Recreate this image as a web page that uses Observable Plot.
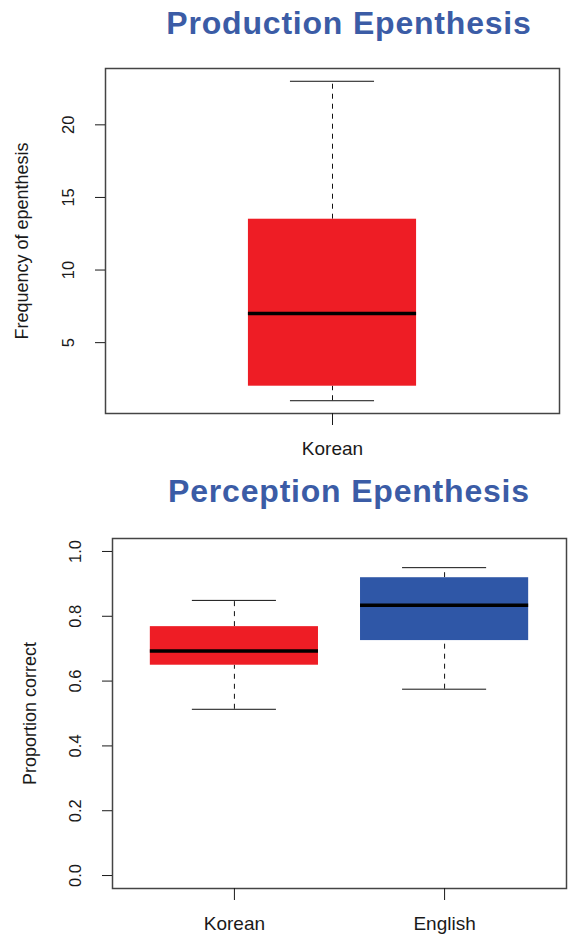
<!DOCTYPE html>
<html><head><meta charset="utf-8">
<script src="https://cdn.jsdelivr.net/npm/d3@7"></script>
<script src="https://cdn.jsdelivr.net/npm/@observablehq/plot@0.6"></script>
<style>
body{margin:0;background:#fff;}
#wrap{position:relative;width:568px;height:934px;overflow:hidden;font-family:"Liberation Sans",Arial,sans-serif;}
.title{position:absolute;left:149px;width:400px;text-align:center;font-weight:bold;font-size:32px;line-height:32px;letter-spacing:0.8px;color:#3B5CA6;white-space:nowrap;}
.chart{position:absolute;left:0;}
</style></head><body>
<div id="wrap">
<div class="title" style="top:7px">Production Epenthesis</div>
<div id="c1" class="chart" style="top:50px"></div>
<div class="title" style="top:475px">Perception Epenthesis</div>
<div id="c2" class="chart" style="top:520px"></div>
</div>
<script>
// Production epenthesis (frequency)
const prodGroups = ["Korean"];
const prodMin = [1];
const prodQ1 = [2];
const prodMedian = [7];
const prodQ3 = [13.5];
const prodMax = [23];
const prodTicks = [5, 10, 15, 20];

// Perception epenthesis (proportion correct)
const percGroups = ["Korean", "English"];
const percMin = [0.513, 0.575];
const percQ1 = [0.649, 0.725];
const percMedian = [0.693, 0.834];
const percQ3 = [0.768, 0.919];
const percMax = [0.849, 0.95];
const percTicks = [0, 0.2, 0.4, 0.6, 0.8, 1.0];

const groupColors = {Korean: "#EE1D25", English: "#2F57A7"};

function boxChart(o) {
  const rows = o.groups.map((g, i) => ({
    group: g, pos: i + 1, min: o.mins[i], q1: o.q1s[i], med: o.medians[i],
    q3: o.q3s[i], max: o.maxs[i], fill: groupColors[g]
  }));
  const half = o.half, cap = o.cap;
  return Plot.plot({
    width: 568, height: o.height,
    marginTop: o.marginTop, marginBottom: o.marginBottom,
    marginLeft: o.marginLeft, marginRight: o.marginRight,
    style: {fontFamily: '"Liberation Sans", Arial, sans-serif', fontSize: "16px", color: "#1a1a1a", background: "white"},
    x: {type: "linear", domain: o.xDomain},
    y: {domain: o.yDomain},
    color: {type: "identity"},
    marks: [
      Plot.ruleX(rows, {x: "pos", y1: "q3", y2: "max", stroke: "#111", strokeDasharray: "5,5"}),
      Plot.ruleX(rows, {x: "pos", y1: "min", y2: "q1", stroke: "#111", strokeDasharray: "5,5"}),
      Plot.ruleY(rows, {y: "max", x1: d => d.pos - cap, x2: d => d.pos + cap, stroke: "#111"}),
      Plot.ruleY(rows, {y: "min", x1: d => d.pos - cap, x2: d => d.pos + cap, stroke: "#111"}),
      Plot.rect(rows, {x1: d => d.pos - half, x2: d => d.pos + half, y1: "q1", y2: "q3", fill: "fill"}),
      Plot.ruleY(rows, {y: "med", x1: d => d.pos - half, x2: d => d.pos + half, stroke: "#000", strokeWidth: 3.5}),
      Plot.frame({stroke: "#444", strokeWidth: 1.5}),
      Plot.axisY({ticks: o.ticks, tickFormat: o.tickFormat, tickSize: 10, tickPadding: 22, tickRotate: -90, fontSize: 16.5, label: null}),
      Plot.axisX({ticks: rows.map(d => d.pos), tickFormat: p => o.groups[p - 1], tickSize: 12, tickPadding: 16, fontSize: 19, label: null}),
      Plot.text([o.ylabel], {text: d => d, frameAnchor: "left", rotate: -90, dx: o.labelDx, fontSize: 18, textAnchor: "middle", lineAnchor: "middle", fill: "#1a1a1a"})
    ]
  });
}

document.getElementById("c1").append(boxChart({
  groups: prodGroups, mins: prodMin, q1s: prodQ1, medians: prodMedian, q3s: prodQ3, maxs: prodMax,
  ticks: prodTicks, tickFormat: d3.format("d"), yDomain: [0.12, 23.88], xDomain: [0.46, 1.54],
  half: 0.2, cap: 0.1, height: 410, marginTop: 18, marginBottom: 47, marginLeft: 105, marginRight: 9,
  ylabel: "Frequency of epenthesis", labelDx: -83
}));

document.getElementById("c2").append(boxChart({
  groups: percGroups, mins: percMin, q1s: percQ1, medians: percMedian, q3s: percQ3, maxs: percMax,
  ticks: percTicks, tickFormat: d3.format(".1f"), yDomain: [-0.04, 1.04], xDomain: [0.42, 2.58],
  half: 0.4, cap: 0.2, height: 414, marginTop: 18, marginBottom: 46, marginLeft: 112, marginRight: 2,
  ylabel: "Proportion correct", labelDx: -82
}));
</script>
</body></html>
